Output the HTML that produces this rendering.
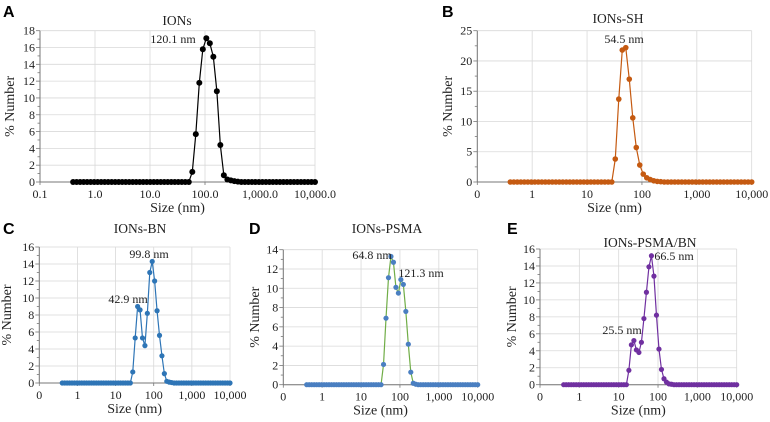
<!DOCTYPE html>
<html><head><meta charset="utf-8">
<style>
html,body{margin:0;padding:0;background:#fff;}
svg{display:block;}
svg text{font-family:"Liberation Serif","Times New Roman",serif;}
svg text.lt{font-family:"Liberation Sans",Arial,sans-serif;font-weight:bold;font-size:16px;fill:#000;}
</style></head>
<body>
<svg id="fig" width="770" height="422" viewBox="0 0 770 422"></svg>
<script>
// Shared size bins (nm)
const sizes = [0.4,0.4632,0.5365,0.6213,0.7195,0.8332,0.9649,1.117,1.294,1.499,1.736,2.010,2.328,2.696,3.122,3.615,4.187,4.849,5.615,6.503,7.531,8.721,10.10,11.70,13.54,15.69,18.17,21.04,24.36,28.21,32.67,37.84,43.82,50.75,58.77,68.06,78.82,91.28,105.7,122.4,141.8,164.2,190.1,220.2,255.0,295.3,342.0,396.1,458.7,531.2,615.1,712.4,825.0,955.4,1106,1281,1484,1718,1990,2305,2669,3091,3580,4145,4801,5560,6439,7456,8635,10000];
// index of first bin for each nonzero list below
const startA = 34, startB = 30, startC = 29, startD = 31, startE = 26;
const valsA = [1.2,5.7,11.8,15.8,17.1,16.5,14.9,10.8,4.4,0.8,0.3,0.2,0.1,0.05];
const valsB = [3.8,13.7,21.8,22.2,17.0,10.6,5.7,2.8,1.3,0.7,0.4,0.2,0.1,0.05];
const valsC = [1.3,5.3,9.0,8.6,5.3,4.4,8.2,13.0,14.3,12.0,8.5,5.6,3.2,1.1,0.2,0.1,0.05];
const valsD = [2.1,6.9,11.1,13.3,12.7,10.1,9.5,10.9,10.4,7.6,4.2,1.3,0.15,0.05];
const valsE = [1.7,4.7,5.2,4.1,3.8,5.0,7.8,10.9,13.9,15.2,12.8,8.2,4.2,1.8,0.7,0.3,0.1,0.05];
const xTicksA = ["0.1","1.0","10.0","100.0","1,000.0","10,000.0"];
const xTicksB = ["0","1","10","100","1,000","10,000"];

const NS="http://www.w3.org/2000/svg";
const SERIF='"Liberation Serif", "Times New Roman", serif';
const svg=document.getElementById('fig');
function mk(tag,attrs,parent,text){const e=document.createElementNS(NS,tag);for(const k in attrs)e.setAttribute(k,attrs[k]);if(text!==undefined)e.textContent=text;(parent||svg).appendChild(e);return e;}
function series(start,vals){const out=[];for(let i=0;i<sizes.length;i++){const j=i-start;out.push(j>=0&&j<vals.length?vals[j]:0);}return out;}

function panel(p){
  const g=mk('g',{});
  
  
  const xs=v=>p.x0+(p.x1-p.x0)*(Math.log10(v)+1)/5;
  const ys=v=>p.y0-(p.y0-p.y1)*v/p.ymax;
  for(let v=0;v<=p.ymax;v+=p.ystep){
    const l=mk('line',{x1:p.x0,x2:p.x1,y1:ys(v),y2:ys(v),stroke:'#d9d9d9','stroke-width':0.8},g);
    
  }
  for(let k=0;k<=5;k++){
    const x=xs(Math.pow(10,k-1));
    const l=mk('line',{x1:x,x2:x,y1:p.y1,y2:p.y0,stroke:'#d9d9d9','stroke-width':0.8},g);
    
  }
  const ya=mk('line',{x1:p.x0,x2:p.x0,y1:p.y1,y2:p.y0,stroke:'#777','stroke-width':1},g);
  
  const xa=mk('line',{x1:p.x0,x2:p.x1,y1:p.y0,y2:p.y0,stroke:'#777','stroke-width':1},g);
  
  for(let v=0;v<=p.ymax;v+=p.ystep/2){
    mk('line',{x1:p.x0-(v%p.ystep===0?4:2.5),x2:p.x0,y1:ys(v),y2:ys(v),stroke:'#777','stroke-width':0.8},g);
  }
  for(let v=0;v<=p.ymax;v+=p.ystep){
    const t=mk('text',{x:p.x0-5,y:ys(v)+4,'text-anchor':'end','font-size':12,fill:'#222','font-family':SERIF},g,String(v));
    
  }
  p.xt.forEach((s,k)=>{
    const x=xs(Math.pow(10,k-1));
    mk('line',{x1:x,x2:x,y1:p.y0,y2:p.y0+3,stroke:'#777','stroke-width':0.8},g);
    const t=mk('text',{x:x,y:p.y0+16,'text-anchor':'middle','font-size':12,fill:'#222','font-family':SERIF},g,s);
    
  });
  const tt=mk('text',{x:p.tx,y:p.ty,'text-anchor':'middle','font-size':13.5,fill:'#222','font-family':SERIF},g,p.title);
  
  const xt=mk('text',{x:(p.x0+p.x1)/2,y:p.y0+30,'text-anchor':'middle','font-size':14,fill:'#222','font-family':SERIF},g,'Size (nm)');
  
  const yc=(p.y0+p.y1)/2;
  const yt=mk('text',{x:p.yx,y:yc,'text-anchor':'middle','font-size':14,fill:'#222','font-family':SERIF,transform:`rotate(-90 ${p.yx} ${yc})`},g,'% Number');
  
  const lt=mk('text',{x:p.lx,y:p.ly,class:'lt','font-family':'"Liberation Sans", Arial, sans-serif','font-weight':'bold','font-size':16},g,p.id);
  
  const ser=series(p.start,p.vals);
  const pts=ser.map((v,i)=>xs(sizes[i]).toFixed(2)+','+ys(v).toFixed(2)).join(' ');
  const pl=mk('polyline',{points:pts,fill:'none',stroke:p.line,'stroke-width':1.2},g);
  
  ser.forEach((v,i)=>{
    const c=mk('circle',{cx:xs(sizes[i]),cy:ys(v),r:p.r,fill:p.mark},g);
    
  });
  p.ann.forEach(a=>{
    const t=mk('text',{x:a[0],y:a[1],'text-anchor':'middle','font-size':12,fill:'#222','font-family':SERIF},g,a[2]);
    
  });
}

panel({id:'A',x0:40,x1:315,y0:182,y1:30.7,ymax:18,ystep:2,xt:xTicksA,title:'IONs',tx:177,ty:25,yx:14,lx:3,ly:17,
  start:startA,vals:valsA,line:'#000',mark:'#000',r:3,ann:[[173,43,'120.1 nm']]});
panel({id:'B',x0:477.3,x1:751.7,y0:182,y1:30.7,ymax:25,ystep:5,xt:xTicksB,title:'IONs-SH',tx:618,ty:23,yx:452,lx:442,ly:17,
  start:startB,vals:valsB,line:'#c55a11',mark:'#c55a11',r:2.8,ann:[[624,43,'54.5 nm']]});
panel({id:'C',x0:39.3,x1:230,y0:383,y1:247,ymax:16,ystep:2,xt:xTicksB,title:'IONs-BN',tx:140,ty:233,yx:11,lx:3,ly:234,
  start:startC,vals:valsC,line:'#2e75b6',mark:'#2e75b6',r:2.6,ann:[[149,258,'99.8 nm'],[128,303,'42.9 nm']]});
panel({id:'D',x0:283.3,x1:477.7,y0:384.7,y1:249.7,ymax:14,ystep:2,xt:xTicksB,title:'IONs-PSMA',tx:387,ty:233,yx:259,lx:249,ly:234,
  start:startD,vals:valsD,line:'#70ad47',mark:'#4a7fc1',r:2.6,ann:[[372,259,'64.8 nm'],[421,277,'121.3 nm']]});
panel({id:'E',x0:540,x1:736.7,y0:384.7,y1:249,ymax:16,ystep:2,xt:xTicksB,title:'IONs-PSMA/BN',tx:650,ty:247,yx:516,lx:507,ly:234,
  start:startE,vals:valsE,line:'#7030a0',mark:'#7030a0',r:2.6,ann:[[674,260,'66.5 nm'],[622,334,'25.5 nm']]});
</script>
</body></html>
